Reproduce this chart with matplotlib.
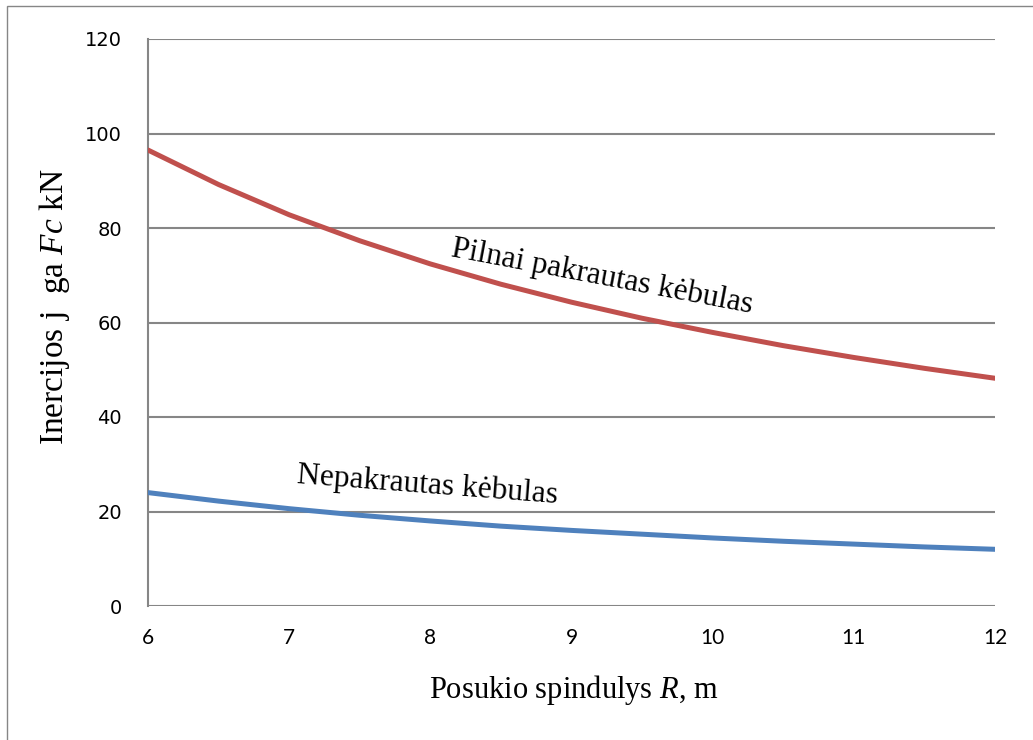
import matplotlib
matplotlib.use("Agg")
import matplotlib.pyplot as plt
from matplotlib.patches import Rectangle

# turning radius, m
radius = [6.0, 6.5, 7.0, 7.5, 8.0, 8.5, 9.0, 9.5, 10.0, 10.5, 11.0, 11.5, 12.0]
# inertia force, kN
loaded = [96.5, 89.2, 82.8, 77.3, 72.4, 68.1, 64.3, 60.9, 57.9, 55.1, 52.6, 50.3, 48.2]
empty = [24.0, 22.2, 20.6, 19.2, 18.0, 16.9, 16.0, 15.2, 14.4, 13.7, 13.1, 12.5, 12.0]

x_ticks = [6, 7, 8, 9, 10, 11, 12]
y_ticks = [0, 20, 40, 60, 80, 100, 120]

plt.rcParams["mathtext.fontset"] = "custom"
plt.rcParams["mathtext.rm"] = "Liberation Serif"
plt.rcParams["mathtext.it"] = "Liberation Serif:italic"

GRID = "#868686"
RED = "#C0504D"
BLUE = "#4F81BD"

fig = plt.figure(figsize=(10.33, 7.4), dpi=100)
ax = fig.add_axes([148 / 1033, 1 - 606 / 740, (995 - 148) / 1033, (606 - 39) / 740])

# chart frame (left and top edges visible)
fig.patches.append(Rectangle((7 / 1033, -0.1), 1.2, 1 - 6 / 740 + 0.1,
                             transform=fig.transFigure, fill=False,
                             edgecolor=GRID, linewidth=1.0))

ax.plot(radius, loaded, color=RED, linewidth=3.6, solid_capstyle="round", zorder=3)
ax.plot(radius, empty, color=BLUE, linewidth=3.6, solid_capstyle="round", zorder=3)

ax.set_xlim(6, 12)
ax.set_ylim(0, 120)
ax.set_xticks(x_ticks)
ax.set_yticks(y_ticks)
ax.yaxis.grid(True, color=GRID, linewidth=1.5)
ax.set_axisbelow(True)
for side in ("top", "right", "bottom"):
    ax.spines[side].set_visible(False)
ax.spines["left"].set_color(GRID)
ax.spines["left"].set_linewidth(1.5)
ax.tick_params(length=0)
ax.tick_params(axis="y", pad=18.7, labelsize=14, labelfontfamily="DejaVu Sans")
ax.tick_params(axis="x", pad=16, labelsize=15, labelfontfamily="Lato")

ax.set_xlabel("Posukio spindulys $R$, m", fontfamily="Liberation Serif", fontsize=22)
ax.xaxis.set_label_coords(0.503, -0.118)
ax.set_ylabel("Inercijos j  ga $Fc$ kN", fontfamily="Liberation Serif", fontsize=24)
ax.yaxis.set_label_coords(-0.0897, 0.527)

ax.text(8.14, 74.0, "Pilnai pakrautas kėbulas", fontfamily="Liberation Serif",
        fontsize=22.7, rotation=-10.7, rotation_mode="anchor", ha="left", va="baseline")
ax.text(7.05, 26.0, "Nepakrautas kėbulas", fontfamily="Liberation Serif",
        fontsize=22.7, rotation=-4.4, rotation_mode="anchor", ha="left", va="baseline")

fig.savefig("out.png", dpi=100)
